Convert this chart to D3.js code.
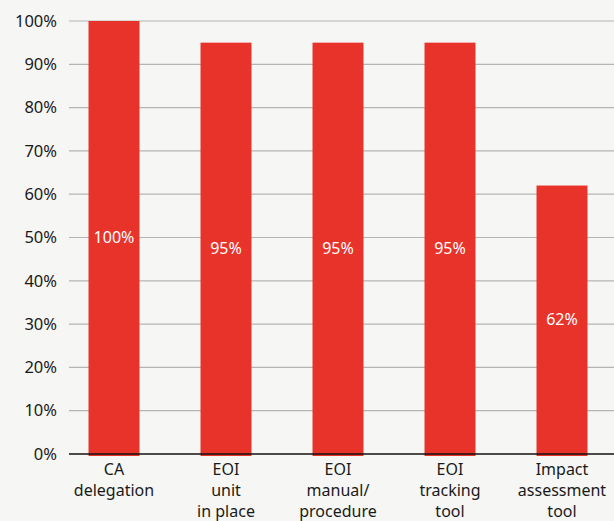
<!DOCTYPE html>
<html>
<head>
<meta charset="utf-8">
<script src="https://cdn.jsdelivr.net/npm/d3@7"></script>
<style>
  body { margin:0; background:#f6f6f4; }
  svg { display:block; font-family:"Noto Sans", sans-serif; }
</style>
</head>
<body>
<div id="plot"></div>
<script>
var categories = [
    ["CA", "delegation"],
    ["EOI", "unit", "in place"],
    ["EOI", "manual/", "procedure"],
    ["EOI", "tracking", "tool"],
    ["Impact", "assessment", "tool"]
];
var values = [100, 95, 95, 95, 62];
var yTicks = [0, 10, 20, 30, 40, 50, 60, 70, 80, 90, 100];

var W = 614, H = 521;
var svg = d3.select('#plot').append('svg')
    .attr('width', W).attr('height', H);

svg.append('rect').attr('width', W).attr('height', H).attr('fill', '#f6f6f4');

var x = d3.scaleBand()
    .domain(d3.range(values.length))
    .range([58, 618])
    .paddingInner(0.545)
    .paddingOuter(0.2725);

var y = d3.scaleLinear().domain([0, 100]).range([454, 21]);

// gridlines
svg.selectAll('.grid').data(yTicks.slice(1)).enter()
    .append('line')
    .attr('x1', 69).attr('x2', W)
    .attr('y1', function(d){ return y(d); })
    .attr('y2', function(d){ return y(d); })
    .attr('stroke', '#b4b4b2').attr('stroke-width', 1.2);

// y labels
svg.selectAll('.ylab').data(yTicks).enter()
    .append('text')
    .attr('x', 57)
    .attr('y', function(d){ return y(d); })
    .attr('dy', '0.35em')
    .attr('text-anchor', 'end')
    .attr('font-size', 16.5)
    .attr('fill', '#1a1a1a')
    .text(function(d){ return d + '%'; });

// bars
svg.selectAll('.bar').data(values).enter()
    .append('rect')
    .attr('x', function(d, i){ return x(i); })
    .attr('width', x.bandwidth())
    .attr('y', function(d){ return y(d); })
    .attr('height', function(d){ return y(0) - y(d) + 2; })
    .attr('fill', '#e8332b');

// value labels
svg.selectAll('.vlab').data(values).enter()
    .append('text')
    .attr('x', function(d, i){ return x(i) + x.bandwidth() / 2; })
    .attr('y', function(d){ return (y(d) + y(0)) / 2; })
    .attr('dy', '0.35em')
    .attr('text-anchor', 'middle')
    .attr('font-size', 16)
    .attr('fill', '#fff')
    .text(function(d){ return d + '%'; });

// baseline
svg.append('line')
    .attr('x1', 69).attr('x2', W)
    .attr('y1', y(0)).attr('y2', y(0))
    .attr('stroke', '#111').attr('stroke-width', 1.5);

// category labels
var cats = svg.selectAll('.cat').data(categories).enter()
    .append('text')
    .attr('text-anchor', 'middle')
    .attr('font-size', 16)
    .attr('fill', '#1a1a1a');

cats.selectAll('tspan').data(function(d, i){
        return d.map(function(t){ return {t: t, i: i}; });
    }).enter()
    .append('tspan')
    .attr('x', function(d){ return x(d.i) + x.bandwidth() / 2; })
    .attr('y', function(d, j){ return 475 + j * 21; })
    .text(function(d){ return d.t; });
</script>
</body>
</html>
